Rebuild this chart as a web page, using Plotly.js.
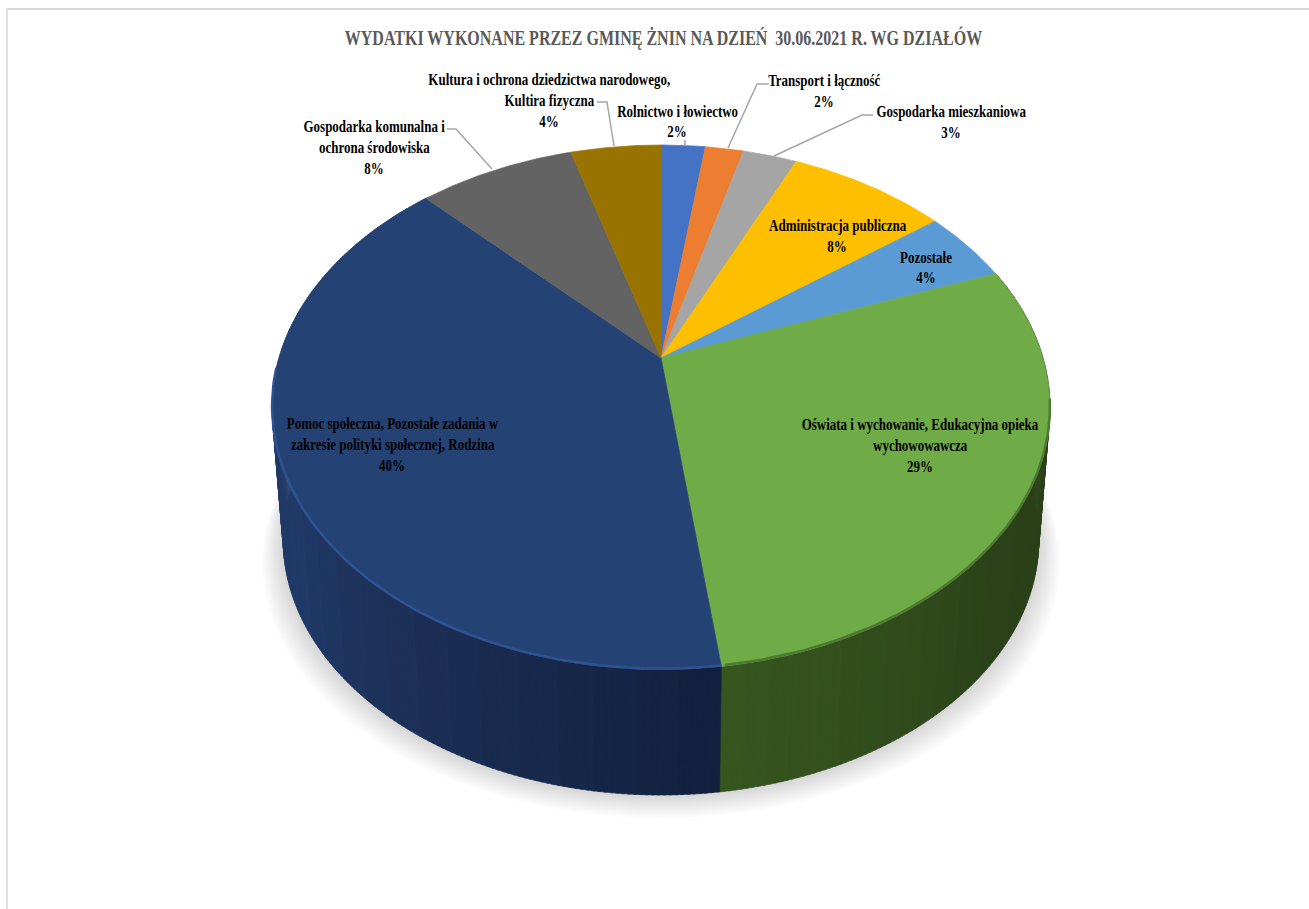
<!DOCTYPE html>
<html><head><meta charset="utf-8">
<script src="https://cdn.plot.ly/plotly-3.0.1.min.js"></script>
<style>html,body{margin:0;padding:0;background:#fff}#c{width:1309px;height:909px}</style>
</head><body><div id="c"></div>
<script>
var chartTitle = "WYDATKI WYKONANE PRZEZ GMINĘ ŻNIN NA DZIEŃ  30.06.2021 R. WG DZIAŁÓW";
var categories = [
 "Rolnictwo i łowiectwo",
 "Transport i łączność",
 "Gospodarka mieszkaniowa",
 "Administracja publiczna",
 "Pozostałe",
 "Oświata i wychowanie, Edukacyjna opieka<br>wychowowawcza",
 "Pomoc społeczna, Pozostałe zadania w<br>zakresie polityki społecznej, Rodzina",
 "Gospodarka komunalna i<br>ochrona środowiska",
 "Kultura i ochrona dziedzictwa narodowego,<br>Kultira fizyczna"
];
var values = [2.2, 1.9, 2.7, 7.9, 4.49, 28.7, 39.7, 7.8, 4.49];
var colors = ["#4472c4","#ed7d31","#a5a5a5","#fdbf00","#5b9bd5","#6fab47","#254275","#636363","#997300"];
var sideNear = [null,null,null,null,null,"#37561f","#213a68",null,null];
var sideFar  = [null,null,null,null,null,"#2b421a","#13213f",null,null];
var labelX = [677,824,951,837,926,920,392,374,549];
var labelY = [111,81,112,226,257,425,424,127,80];
var leaders = [
 [[685,685],[140,146]],
 [[769,757,728],[84,84,148]],
 [[873,862,774],[115,115,156]],
 [[447,456,492],[129,129,169]],
 [[597,607,614],[102,102,146]]
];

var total = values.reduce(function(a,b){return a+b;},0);
// perspective projection of the pie's top and bottom faces
var topFace = {cx:661,cy:358,A:382,B:253,k:0.188};
var botFace = {cx:661,cy:492,A:371,B:246,k:0.188};
function proj(f,deg){
  var t=deg*Math.PI/180,u=Math.sin(t),v=Math.cos(t),w=1+f.k*v;
  return [f.cx+f.A*u/w,f.cy-f.B*v/w];
}
function hex(c){return [1,3,5].map(function(i){return parseInt(c.substr(i,2),16);});}
function mix(a,b,t){var x=hex(a),y=hex(b);return "rgb("+x.map(function(p,i){return Math.round(p+(y[i]-p)*t);}).join(",")+")";}

var traces=[];
// soft shadow under the disc
for(var s=10;s>=1;s--){
  var xs=[],ys=[];
  for(var d=0;d<=360;d+=3){
    var p=proj(botFace,d);
    xs.push(661+(p[0]-661)*(1+s*0.0055)); ys.push(p[1]+s*2.3);
  }
  traces.push({type:"scatter",mode:"lines",x:xs,y:ys,fill:"toself",fillcolor:"rgba(120,120,120,0.028)",line:{width:0},hoverinfo:"skip",showlegend:false});
}
// slices
var starts=[],acc=0;
values.forEach(function(v){starts.push(acc/total*360);acc+=v;});
var sideTraces=[],topTraces=[],step=0.75;
values.forEach(function(v,i){
  var a0=starts[i],a1=a0+v/total*360;
  if(sideNear[i]){
    var bands=14,n=Math.ceil((a1-a0)/step);
    var bx=[],by=[];for(var b=0;b<bands;b++){bx.push([]);by.push([]);}
    for(var j=0;j<n;j++){
      var d0=a0+(a1-a0)*j/n,d1=a0+(a1-a0)*(j+1)/n+0.4;
      // t = 0 at the far shade, 1 at the near shade
      var t=(i==5)?Math.max(0,1-Math.abs(a1-d0)/45):Math.min(1,Math.abs(d0-a0)/70);
      var bi=Math.min(bands-1,Math.floor(t*bands));
      var q=[proj(topFace,d0),proj(topFace,d1),proj(botFace,d1),proj(botFace,d0),proj(topFace,d0)];
      q.forEach(function(pt){bx[bi].push(pt[0]);by[bi].push(pt[1]);});
      bx[bi].push(null);by[bi].push(null);
    }
    for(var b=0;b<bands;b++){ if(!bx[b].length) continue;
      var col=mix(sideFar[i],sideNear[i],b/(bands-1));
      sideTraces.push({type:"scatter",mode:"lines",x:bx[b],y:by[b],fill:"toself",fillcolor:col,line:{width:0.6,color:col},hoverinfo:"skip",showlegend:false});
    }
  }
  var xs=[topFace.cx],ys=[topFace.cy];
  var m=Math.ceil((a1-a0)/0.5);
  for(var j=0;j<=m;j++){var p=proj(topFace,a0+(a1-a0)*j/m);xs.push(p[0]);ys.push(p[1]);}
  xs.push(topFace.cx);ys.push(topFace.cy);
  var pct=Math.round(v/total*100);
  topTraces.push({type:"scatter",mode:"lines",x:xs,y:ys,fill:"toself",fillcolor:colors[i],line:{width:0.7,color:colors[i]},
    name:categories[i].replace("<br>"," "),text:categories[i].replace("<br>"," ")+" "+pct+"%",hoverinfo:"text",showlegend:false});
});
traces=traces.concat(sideTraces,topTraces);
// bevel highlight along the front rim
function rim(a0,a1,col,w,off){
  var xs=[],ys=[];for(var d=a0;d<=a1;d+=1){var p=proj(topFace,d);xs.push(p[0]);ys.push(p[1]+off);}
  return {type:"scatter",mode:"lines",x:xs,y:ys,line:{color:col,width:w},hoverinfo:"skip",showlegend:false};
}
var navy0=starts[6],green0=starts[5];
traces.push(rim(navy0,268,"#2f5290",2.5,-1));
traces.push(rim(green0+30,navy0,"#4d7a31",2.5,-1));
// leader lines
leaders.forEach(function(l){
  traces.push({type:"scatter",mode:"lines",x:l[0],y:l[1],line:{color:"#a6a6a6",width:1.5},hoverinfo:"skip",showlegend:false});
});
// labels
var ann=[];
categories.forEach(function(c,i){
  var lines=c.split("<br>").concat([Math.round(values[i]/total*100)+"%"]);
  var lh=20.5;
  lines.forEach(function(t,k){
    ann.push({x:labelX[i],y:labelY[i]+k*lh,xref:"x",yref:"y",text:t,showarrow:false,xanchor:"center",yanchor:"middle",
      font:{family:"Liberation Serif",size:16,color:"#000",weight:700}});
  });
});
var layout={
  width:1309,height:909,margin:{l:0,r:0,t:0,b:0},paper_bgcolor:"#fff",plot_bgcolor:"#fff",
  title:{text:chartTitle,x:663.5/1309,xanchor:"center",y:1-38/909,yanchor:"middle",font:{family:"Liberation Serif",size:20,color:"#595959",weight:700}},
  xaxis:{range:[0,1309],visible:false,fixedrange:true},
  yaxis:{range:[909,0],visible:false,fixedrange:true},
  shapes:[
    {type:"line",xref:"x",yref:"y",x0:6,x1:1309,y0:9,y1:9,line:{color:"#d9d9d9",width:2}},
    {type:"line",xref:"x",yref:"y",x0:7,x1:7,y0:8,y1:909,line:{color:"#dedede",width:2}}
  ],
  annotations:ann,showlegend:false
};
// the reference's lettering is horizontally condensed
function condense(el,f){
  var w=el.getComputedTextLength();
  el.setAttribute("textLength",(w*f).toFixed(1));
  el.setAttribute("lengthAdjust","spacingAndGlyphs");
}
Plotly.newPlot("c",traces,layout,{displayModeBar:false,staticPlot:true}).then(function(){
  document.querySelectorAll("#c .annotation-text").forEach(function(el){condense(el,0.81);});
  document.querySelectorAll("#c .gtitle").forEach(function(el){condense(el,0.80);});
});
</script></body></html>
